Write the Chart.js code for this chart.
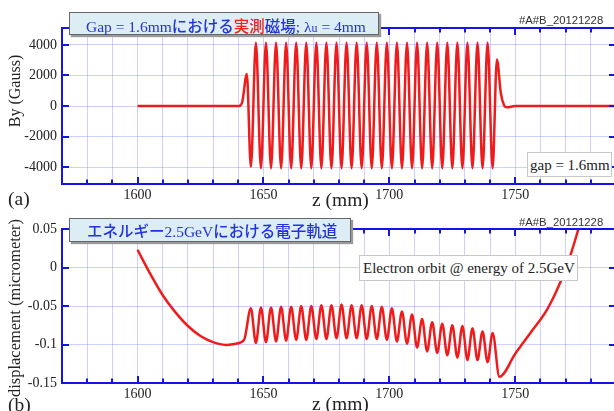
<!DOCTYPE html>
<html>
<head>
<meta charset="utf-8">
<script src="https://cdn.jsdelivr.net/npm/chart.js@4.4.1/dist/chart.umd.min.js"></script>
<style>
  html, body { margin: 0; padding: 0; background: #fff; width: 614px; height: 411px; overflow: hidden; }
  #page { position: relative; width: 614px; height: 411px; overflow: hidden; }
  canvas { position: absolute; left: 0; }
  .txt { position: absolute; white-space: nowrap; font-family: "Liberation Serif", serif; color: #222; line-height: 1; }
  .tbox { position: absolute; box-sizing: border-box; background: #dcedf5; border: 1px solid #666;
          box-shadow: 2px 2px 1px #9a9a9a; color: #2233dd; white-space: nowrap; line-height: 1; }
  .ser { font-family: "Liberation Serif", serif; }
  .jp { font-family: "Noto Sans CJK JP", sans-serif; font-weight: 500; }
  .red { color: #ee2222; }
  .stamp { position: absolute; font-family: "Liberation Sans", sans-serif; font-size: 11.3px; color: #333; line-height: 1; }
  .note { position: absolute; box-sizing: border-box; background: #fff; border: 1px solid #c8c8c8;
          font-family: "Liberation Serif", serif; font-size: 15px; color: #222; white-space: nowrap; line-height: 1; }
  .ytitle { position: absolute; transform: translate(-50%, -50%) rotate(-90deg); }
</style>
</head>
<body>
<div id="page">
  <canvas id="chartA" width="630" height="211" style="top:0; width:630px; height:211px;"></canvas>
  <canvas id="chartB" width="630" height="206" style="top:205px; width:630px; height:206px;"></canvas>

  <div class="tbox" style="left:69px; top:12px; width:310px; height:23px; padding:5px 0 0 16px; font-size:15.5px;">
    <span class="ser">Gap = 1.6mm</span><span class="jp">における</span><span class="jp red">実測</span><span class="jp">磁場</span><span class="ser">; λ<span style="font-size:12px">u</span> = 4mm</span>
  </div>
  <div class="stamp" style="left:519px; top:15px;">#A#B_20121228</div>
  <div class="note" style="left:527px; top:152px; width:85px; height:25px; padding:5px 0 0 2px;">gap = 1.6mm</div>
  <div class="txt ytitle" style="left:15px; top:91px; font-size:16px;">By (Gauss)</div>
  <div class="txt" style="left:8px; top:189px; font-size:19.5px;">(a)</div>
  <div class="txt" style="left:312px; top:190px; font-size:19.5px;">z (mm)</div>

  <div class="tbox" style="left:69px; top:218px; width:282px; height:24px; padding:4px 0 0 17px; font-size:15.5px;">
    <span class="jp">エネルギー</span><span class="ser">2.5GeV</span><span class="jp">における電子軌道</span>
  </div>
  <div class="stamp" style="left:519px; top:217px;">#A#B_20121228</div>
  <div class="note" style="left:359px; top:255px; width:219px; height:26px; padding:5px 0 0 3px;">Electron orbit @ energy of 2.5GeV</div>
  <div class="txt ytitle" style="left:15px; top:308px; font-size:16.5px;">displacement (micrometer)</div>
  <div class="txt" style="left:8px; top:395px; font-size:19.5px;">(b)</div>
  <div class="txt" style="left:312px; top:394px; font-size:19.5px;">z (mm)</div>
</div>

<script>
// z axis labels, shared by both panels
const zTickLabels = [1600, 1650, 1700, 1750];

// (a) measured field By along the undulator (gap 1.6 mm)
const byTicks = [-4000, -2000, 0, 2000, 4000];
const zA = [
  1600, 1640.3, 1641.6, 1643.4,
  1645, 1647, 1649, 1651, 1653, 1655, 1657, 1659, 1661, 1663,
  1665, 1667, 1669, 1671, 1673, 1675, 1677, 1679, 1681, 1683,
  1685, 1687, 1689, 1691, 1693, 1695, 1697, 1699, 1701, 1703,
  1705, 1707, 1709, 1711, 1713, 1715, 1717, 1719, 1721, 1723,
  1725, 1727, 1729, 1731, 1733, 1735, 1737, 1739, 1741,
  1742.7, 1744.3, 1745.5, 1746.6, 1750, 1790
];
const byA = [
  0, 0, 280, 2100,
  -3980, 4150, -4080, 4150, -4080, 4150, -4080, 4150, -4080, 4150,
  -4080, 4150, -4080, 4150, -4080, 4150, -4080, 4150, -4080, 4150,
  -4080, 4150, -4080, 4150, -4080, 4150, -4080, 4150, -4080, 4150,
  -4080, 4150, -4080, 4150, -4080, 4150, -4080, 4150, -4080, 4150,
  -4080, 4150, -4080, 4150, -4080, 4150, -4080, 4150, -4080,
  3050, 800, 60, -90, 0, 0
];

// (b) electron orbit displacement at 2.5 GeV
const dispTicks = [-0.15, -0.1, -0.05, 0, 0.05];
const zB = [
  1600, 1605, 1610, 1615, 1620, 1625, 1630, 1635, 1639, 1642.3,
  1645, 1647, 1649, 1651, 1653, 1655, 1657, 1659, 1661, 1663,
  1665, 1667, 1669, 1671, 1673, 1675, 1677, 1679, 1681, 1683,
  1685, 1687, 1689, 1691, 1693, 1695, 1697, 1699, 1701, 1703,
  1705, 1707, 1709, 1711, 1713, 1715, 1717, 1719, 1721, 1723,
  1725, 1727, 1729, 1731, 1733, 1735, 1737, 1739, 1741,
  1743.7, 1750, 1756, 1762, 1766, 1770, 1774, 1778
];
const dispB = [
  0.023, -0.008, -0.036, -0.058, -0.076, -0.089, -0.097, -0.1005, -0.099, -0.094,
  -0.053, -0.098, -0.052, -0.097, -0.052, -0.096, -0.051, -0.095, -0.051, -0.094,
  -0.050, -0.094, -0.050, -0.093, -0.049, -0.093, -0.049, -0.092, -0.048, -0.092,
  -0.049, -0.092, -0.049, -0.093, -0.050, -0.093, -0.051, -0.094, -0.053, -0.096,
  -0.057, -0.099, -0.061, -0.104, -0.067, -0.109, -0.071, -0.111, -0.073, -0.114,
  -0.075, -0.117, -0.076, -0.120, -0.079, -0.120, -0.083, -0.123, -0.085,
  -0.142, -0.112, -0.085, -0.058, -0.033, -0.002, 0.038, 0.085
];

const axisBlue = '#1414e6';
const gridBlue = 'rgba(120, 120, 255, 0.35)';
const lineRed = '#ee1c1c';
const tickFont = { family: 'Liberation Serif', size: 14 };

// blue frame round the plot with inward tick marks on all four sides
const frameTicks = {
  id: 'frameTicks',
  afterDraw(chart) {
    const { ctx, chartArea: a, scales: { x, y } } = chart;
    ctx.save();
    ctx.strokeStyle = axisBlue;
    ctx.lineWidth = 2;
    ctx.strokeRect(a.left, a.top, a.right - a.left, a.bottom - a.top);
    ctx.beginPath();
    x.ticks.forEach(t => {
      const px = Math.round(x.getPixelForValue(t.value));
      const len = zTickLabels.includes(t.value) ? 7 : 4.5;
      ctx.moveTo(px, a.bottom); ctx.lineTo(px, a.bottom - len);
      ctx.moveTo(px, a.top); ctx.lineTo(px, a.top + len);
    });
    y.ticks.forEach(t => {
      const py = Math.round(y.getPixelForValue(t.value));
      ctx.moveTo(a.left, py); ctx.lineTo(a.left + 7, py);
      ctx.moveTo(a.right, py); ctx.lineTo(a.right - 7, py);
    });
    ctx.stroke();
    ctx.restore();
  }
};

function makeChart(id, zs, vals, yMin, yMax, yTicks, padTop, xHeight) {
  return new Chart(document.getElementById(id), {
    type: 'line',
    data: {
      datasets: [{
        data: zs.map((z, i) => ({ x: z, y: vals[i] })),
        borderColor: lineRed,
        borderWidth: 2.5,
        pointRadius: 0,
        cubicInterpolationMode: 'monotone',
        fill: false
      }]
    },
    options: {
      responsive: false,
      devicePixelRatio: 1,
      animation: false,
      layout: { padding: { top: padTop, right: 14, bottom: 0, left: 0 } },
      plugins: { legend: { display: false }, tooltip: { enabled: false } },
      scales: {
        x: {
          type: 'linear',
          min: 1570,
          max: 1790,
          afterFit: s => { s.height = xHeight; },
          grid: { color: gridBlue, lineWidth: 1, drawTicks: false },
          border: { display: false },
          ticks: {
            stepSize: 10,
            autoSkip: false,
            maxRotation: 0,
            padding: 3,
            color: '#222',
            font: tickFont,
            callback: v => zTickLabels.includes(v) ? String(v) : ''
          }
        },
        y: {
          min: yMin,
          max: yMax,
          afterFit: s => { s.width = 62; },
          afterBuildTicks: s => { s.ticks = yTicks.map(v => ({ value: v })); },
          grid: { color: gridBlue, lineWidth: 1, drawTicks: false },
          border: { display: false },
          ticks: {
            padding: 5,
            color: '#222',
            font: tickFont,
            callback: v => String(v)
          }
        }
      }
    },
    plugins: [frameTicks]
  });
}

makeChart('chartA', zA, byA, -5110, 5110, byTicks, 28, 27);
makeChart('chartB', zB, dispB, -0.15, 0.05, dispTicks, 24, 28);
</script>
</body>
</html>
